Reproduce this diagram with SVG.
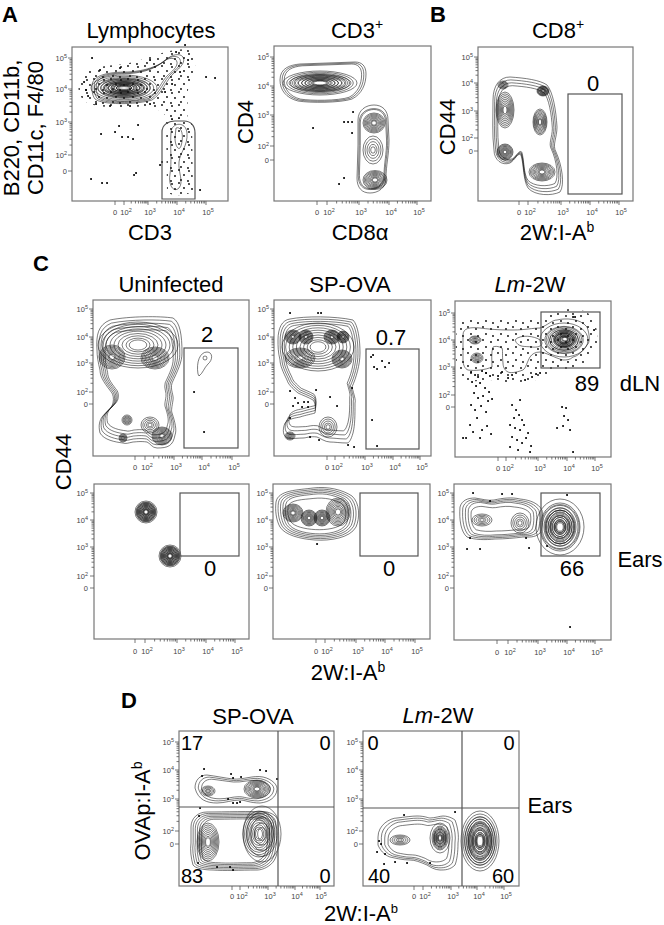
<svg xmlns="http://www.w3.org/2000/svg" width="664" height="925" viewBox="0 0 664 925">
<style>
text{font-family:"Liberation Sans",Arial,sans-serif;fill:#000}
.t{font-size:22px;text-anchor:middle}
.pl{font-size:22px;font-weight:bold}
.n{font-size:22px;text-anchor:middle}
.n2{font-size:20px;text-anchor:middle}
.tx{font-size:7.5px;fill:#444;text-anchor:middle}
.ty{font-size:7.5px;fill:#444;text-anchor:end}
.s{font-size:5.5px}
.fr{fill:none;stroke:#777;stroke-width:1.2}
.gt{fill:none;stroke:#555;stroke-width:1.2}
.tk{fill:none;stroke:#555;stroke-width:0.8}
.ct{fill:none;stroke:#111;stroke-width:0.55}
.dt{fill:none;stroke:#000;stroke-width:2;stroke-linecap:round}
</style>
<defs>
<g id="rg"><circle r="10" fill="none" vector-effect="non-scaling-stroke"/><circle r="9" fill="none" vector-effect="non-scaling-stroke"/><circle r="8" fill="none" vector-effect="non-scaling-stroke"/><circle r="7" fill="none" vector-effect="non-scaling-stroke"/><circle r="6" fill="none" vector-effect="non-scaling-stroke"/><circle r="5" fill="none" vector-effect="non-scaling-stroke"/><circle r="4" fill="none" vector-effect="non-scaling-stroke"/><circle r="3" fill="none" vector-effect="non-scaling-stroke"/><circle r="2.2" fill="none" vector-effect="non-scaling-stroke"/></g>
<g id="rg2"><circle r="10" fill="none" vector-effect="non-scaling-stroke"/><circle r="8" fill="none" vector-effect="non-scaling-stroke"/><circle r="6" fill="none" vector-effect="non-scaling-stroke"/><circle r="4" fill="none" vector-effect="non-scaling-stroke"/><circle r="2.3" fill="none" vector-effect="non-scaling-stroke"/></g>
<g id="dx"><path d="M30.1,0v2.5M47.7,0v2.5M60.2,0v2.5M69.9,0v2.5M77.8,0v2.5M84.5,0v2.5M90.3,0v2.5M95.4,0v2.5" fill="none" vector-effect="non-scaling-stroke"/></g>
<g id="dy"><path d="M0,-30.1h-2.5M0,-47.7h-2.5M0,-60.2h-2.5M0,-69.9h-2.5M0,-77.8h-2.5M0,-84.5h-2.5M0,-90.3h-2.5M0,-95.4h-2.5" fill="none" vector-effect="non-scaling-stroke"/></g>
<pattern id="dots" width="17" height="13" patternUnits="userSpaceOnUse"><circle cx="2" cy="2" r="0.9"/><circle cx="9" cy="1" r="0.9"/><circle cx="14" cy="6" r="0.9"/><circle cx="5" cy="7" r="0.9"/><circle cx="11" cy="11" r="0.9"/><circle cx="1" cy="12" r="0.9"/></pattern>
<pattern id="dots2" width="15" height="13" patternUnits="userSpaceOnUse"><circle cx="3" cy="2" r="0.9"/><circle cx="11" cy="4" r="0.9"/><circle cx="6" cy="9" r="0.9"/><circle cx="13" cy="11" r="0.9"/></pattern>
</defs>
<rect width="664" height="925" fill="#fff"/>

<g id="labels">
<text class="pl" x="2" y="22">A</text>
<text class="pl" x="430" y="22">B</text>
<text class="pl" x="33" y="271">C</text>
<text class="pl" x="121" y="708">D</text>
<text class="t" x="151" y="38">Lymphocytes</text>
<text class="t" x="357" y="38">CD3<tspan font-size="14" dy="-9">+</tspan></text>
<text class="t" x="558" y="38">CD8<tspan font-size="14" dy="-9">+</tspan></text>
<text class="t" x="150" y="240">CD3</text>
<text class="t" x="360" y="240">CD8α</text>
<text class="t" x="557" y="240">2W:I-A<tspan font-size="14" dy="-8">b</tspan></text>
<text class="t" transform="translate(19,128) rotate(-90)">B220, CD11b,</text>
<text class="t" transform="translate(43,128) rotate(-90)">CD11c, F4/80</text>
<text class="t" transform="translate(253,122) rotate(-90)">CD4</text>
<text class="t" transform="translate(455,127) rotate(-90)">CD44</text>
<text class="t" x="171" y="292">Uninfected</text>
<text class="t" x="350" y="292">SP-OVA</text>
<text class="t" x="530" y="292"><tspan font-style="italic">Lm</tspan>-2W</text>
<text class="t" font-size="25" transform="translate(71,462) rotate(-90)">CD44</text>
<text class="t" x="348" y="680">2W:I-A<tspan font-size="14" dy="-8">b</tspan></text>
<text class="t" x="640" y="391">dLN</text>
<text class="t" x="640" y="567">Ears</text>
<text class="t" x="253" y="724">SP-OVA</text>
<text class="t" x="438" y="723"><tspan font-style="italic">Lm</tspan>-2W</text>
<text class="t" transform="translate(150,811) rotate(-90)">OVAp:I-A<tspan font-size="14" dy="-8">b</tspan></text>
<text class="t" font-size="21" x="361" y="921">2W:I-A<tspan font-size="13" dy="-8">b</tspan></text>
<text class="t" x="550" y="813">Ears</text>
</g>

<g id="plotA1">
<rect class="fr" x="72" y="47" width="156" height="154"/>
<g class="tk"><path d="M115,201v4M124,201v4M148,201v4M177,201v4M206,201v4M72,58h-4M72,89h-4M72,122h-4M72,155h-4M72,171h-4"/>
<use href="#dx" transform="translate(124,201) scale(.24,1)"/><use href="#dx" transform="translate(148,201) scale(.29,1)"/><use href="#dx" transform="translate(177,201) scale(.29,1)"/>
<use href="#dy" transform="translate(72,155) scale(1,.33)"/><use href="#dy" transform="translate(72,122) scale(1,.33)"/><use href="#dy" transform="translate(72,89) scale(1,.31)"/></g>
<text class="tx" x="115" y="215">0</text><text class="tx" x="126" y="215">10<tspan class="s" dy="-3">2</tspan></text><text class="tx" x="150" y="215">10<tspan class="s" dy="-3">3</tspan></text><text class="tx" x="179" y="215">10<tspan class="s" dy="-3">4</tspan></text><text class="tx" x="208" y="215">10<tspan class="s" dy="-3">5</tspan></text>
<text class="ty" x="67" y="61">10<tspan class="s" dy="-3">5</tspan></text><text class="ty" x="67" y="92">10<tspan class="s" dy="-3">4</tspan></text><text class="ty" x="67" y="125">10<tspan class="s" dy="-3">3</tspan></text><text class="ty" x="67" y="158">10<tspan class="s" dy="-3">2</tspan></text><text class="ty" x="67" y="174">0</text>
<path d="M80,80 C82,68 100,66 125,64 C145,60 160,52 175,50 C190,47 198,52 196,62 C194,72 190,80 188,90 C186,100 190,112 186,122 L168,122 C166,112 158,108 145,107 C125,106 100,110 86,102 C78,96 77,88 80,80 Z" fill="url(#dots)"/>
<path d="M166,122 C170,118 185,116 192,122 L193,190 C190,196 172,197 167,192 Z" fill="url(#dots)"/>
<path id="a1o" class="ct" vector-effect="non-scaling-stroke" fill="#fff" d="M92,86 C92,75 108,72 128,72 C146,71 158,66 166,60 C172,54 180,53 183,57 C186,62 180,68 174,73 C166,80 162,94 152,100 C135,105 102,105 95,99 C92,95 92,90 92,86 Z"/>
<use href="#a1o" class="ct" transform="translate(128,86) scale(.94) translate(-128,-86)"/>
<use href="#a1o" class="ct" transform="translate(128,86) scale(.88) translate(-128,-86)"/>
<use href="#rg" class="ct" transform="translate(124,88) scale(3.3,1.3)"/>
<use href="#rg" class="ct" transform="translate(124,88) scale(2.6,0.95)"/>
<use href="#rg2" class="ct" transform="translate(124,88) scale(2.0,0.6)"/>
<path class="ct" d="M171,132 C172,122 186,121 187,133 C188,146 180,152 179,162 C178,172 184,182 179,188 C174,193 168,186 170,174 C172,162 170,148 171,132 Z M176,128 C182,126 184,136 181,146 C179,152 175,146 175,138 Z"/>
<path class="dt" d="M92,58h.1M101,134h.1M115,132h.1M119,126h.1M122,137h.1M128,137h.1M133,139h.1M138,125h.1M91,179h.1M102,183h.1M107,183h.1M134,175h.1M136,173h.1M200,190h.1M215,78h.1M206,77h.1M162,162h.1M160,165h.1M185,45h.1M84,82h.1M86,90h.1M88,96h.1M96,104h.1M110,106h.1M130,106h.1M150,104h.1M165,92h.1M172,84h.1M180,72h.1M188,60h.1M176,52h.1M150,60h.1M120,68h.1M100,70h.1"/>
<path class="gt" d="M162,199 L162,132 C162,125 168,121 175,121 L184,121 C191,121 195,126 195,133 L195,199 Z"/>
</g>

<g id="plotA2">
<rect class="fr" x="274" y="46" width="157" height="155"/>
<g class="tk"><path d="M317,201v4M327,201v4M359,201v4M389,201v4M417,201v4M274,57h-4M274,86h-4M274,115h-4M274,146h-4M274,160h-4"/>
<use href="#dx" transform="translate(327,201) scale(.32,1)"/><use href="#dx" transform="translate(359,201) scale(.30,1)"/><use href="#dx" transform="translate(389,201) scale(.28,1)"/>
<use href="#dy" transform="translate(274,146) scale(1,.31)"/><use href="#dy" transform="translate(274,115) scale(1,.29)"/><use href="#dy" transform="translate(274,86) scale(1,.29)"/></g>
<text class="tx" x="317" y="215">0</text><text class="tx" x="329" y="215">10<tspan class="s" dy="-3">2</tspan></text><text class="tx" x="361" y="215">10<tspan class="s" dy="-3">3</tspan></text><text class="tx" x="391" y="215">10<tspan class="s" dy="-3">4</tspan></text><text class="tx" x="419" y="215">10<tspan class="s" dy="-3">5</tspan></text>
<text class="ty" x="269" y="60">10<tspan class="s" dy="-3">5</tspan></text><text class="ty" x="269" y="89">10<tspan class="s" dy="-3">4</tspan></text><text class="ty" x="269" y="118">10<tspan class="s" dy="-3">3</tspan></text><text class="ty" x="269" y="149">10<tspan class="s" dy="-3">2</tspan></text><text class="ty" x="269" y="163">0</text>
<path id="a2o" class="ct" vector-effect="non-scaling-stroke" d="M280,80 C280,68 290,65 300,64 L355,62 C362,62 366,66 366,74 C366,84 362,94 352,99 C340,103 310,103 298,101 C286,98 280,90 280,80 Z"/>
<use href="#a2o" class="ct" transform="translate(322,82) scale(.95) translate(-322,-82)"/>
<use href="#a2o" class="ct" transform="translate(322,82) scale(.9) translate(-322,-82)"/>
<use href="#rg" class="ct" transform="translate(320,83) scale(3.7,1.2)"/>
<use href="#rg" class="ct" transform="translate(320,83) scale(3.1,0.85)"/>
<path id="a2p" class="ct" vector-effect="non-scaling-stroke" d="M358,120 C358,110 366,105 374,105 C382,105 388,110 388,120 L389,140 C389,155 386,165 386,178 C386,188 378,193 370,193 C362,193 357,188 357,178 L358,145 Z"/>
<use href="#a2p" class="ct" transform="translate(373,150) scale(.92) translate(-373,-150)"/>
<use href="#a2p" class="ct" transform="translate(373,150) scale(.85,.9) translate(-373,-150)"/>
<use href="#rg" class="ct" transform="translate(374,123) scale(1.1,1.0)"/>
<use href="#rg2" class="ct" transform="translate(373,150) scale(1.0,1.4)"/>
<use href="#rg" class="ct" transform="translate(375,180) scale(1.2,0.95)"/>
<path class="dt" d="M313,128h.1M344,122h.1M348,122h.1M352,122h.1M353,112h.1M352,133h.1M344,178h.1M339,184h.1"/>
</g>

<g id="plotB">
<rect class="fr" x="478" y="47" width="155" height="154"/>
<g class="tk"><path d="M519,201v4M528,201v4M561,201v4M590,201v4M619,201v4M478,57h-4M478,83h-4M478,111h-4M478,138h-4M478,151h-4"/>
<use href="#dx" transform="translate(528,201) scale(.33,1)"/><use href="#dx" transform="translate(561,201) scale(.29,1)"/><use href="#dx" transform="translate(590,201) scale(.29,1)"/>
<use href="#dy" transform="translate(478,138) scale(1,.27)"/><use href="#dy" transform="translate(478,111) scale(1,.28)"/><use href="#dy" transform="translate(478,83) scale(1,.26)"/></g>
<text class="tx" x="519" y="215">0</text><text class="tx" x="530" y="215">10<tspan class="s" dy="-3">2</tspan></text><text class="tx" x="563" y="215">10<tspan class="s" dy="-3">3</tspan></text><text class="tx" x="592" y="215">10<tspan class="s" dy="-3">4</tspan></text><text class="tx" x="621" y="215">10<tspan class="s" dy="-3">5</tspan></text>
<text class="ty" x="473" y="60">10<tspan class="s" dy="-3">5</tspan></text><text class="ty" x="473" y="86">10<tspan class="s" dy="-3">4</tspan></text><text class="ty" x="473" y="114">10<tspan class="s" dy="-3">3</tspan></text><text class="ty" x="473" y="141">10<tspan class="s" dy="-3">2</tspan></text><text class="ty" x="473" y="154">0</text>
<path id="b1o" class="ct" vector-effect="non-scaling-stroke" d="M493,100 C493,85 500,77 510,77 C525,78 540,80 547,85 C553,92 556,110 557,127 C557,138 552,145 556,152 C562,165 565,185 560,192 C552,196 535,196 528,188 C523,180 524,165 521,155 C518,152 515,160 510,163 C502,166 494,160 494,150 C492,135 493,115 493,100 Z"/>
<use href="#b1o" class="ct" transform="translate(526,135) scale(.95) translate(-526,-135)"/>
<use href="#b1o" class="ct" transform="translate(526,135) scale(.9) translate(-526,-135)"/>
<use href="#b1o" class="ct" transform="translate(526,135) scale(.85) translate(-526,-135)"/>
<use href="#rg" class="ct" transform="translate(505,110) scale(0.9,1.8)"/>
<use href="#rg" class="ct" transform="translate(505,152) scale(0.8,0.8)"/>
<use href="#rg" class="ct" transform="translate(540,122) scale(0.7,1.3)"/>
<use href="#rg" class="ct" transform="translate(543,91) scale(0.6,0.5)"/>
<use href="#rg" class="ct" transform="translate(542,172) scale(1.3,0.9)"/>
<use href="#rg2" class="ct" transform="translate(503,85) scale(0.5,0.4)"/>
<rect class="gt" x="568" y="94" width="54" height="100"/>
<text class="n" x="593" y="91">0</text>
</g>

<g id="plotC1">
<rect class="fr" x="93" y="300" width="156" height="156"/>
<g class="tk"><path d="M135,456v4M145,456v4M174,456v4M202,456v4M232,456v4M93,309h-4M93,337h-4M93,363h-4M93,392h-4M93,404h-4"/>
<use href="#dx" transform="translate(145,456) scale(.29,1)"/><use href="#dx" transform="translate(174,456) scale(.28,1)"/><use href="#dx" transform="translate(202,456) scale(.30,1)"/>
<use href="#dy" transform="translate(93,392) scale(1,.29)"/><use href="#dy" transform="translate(93,363) scale(1,.26)"/><use href="#dy" transform="translate(93,337) scale(1,.28)"/></g>
<text class="tx" x="135" y="470">0</text><text class="tx" x="147" y="470">10<tspan class="s" dy="-3">2</tspan></text><text class="tx" x="176" y="470">10<tspan class="s" dy="-3">3</tspan></text><text class="tx" x="204" y="470">10<tspan class="s" dy="-3">4</tspan></text><text class="tx" x="234" y="470">10<tspan class="s" dy="-3">5</tspan></text>
<text class="ty" x="88" y="312">10<tspan class="s" dy="-3">5</tspan></text><text class="ty" x="88" y="340">10<tspan class="s" dy="-3">4</tspan></text><text class="ty" x="88" y="366">10<tspan class="s" dy="-3">3</tspan></text><text class="ty" x="88" y="395">10<tspan class="s" dy="-3">2</tspan></text><text class="ty" x="88" y="407">0</text>
<path id="c1o" class="ct" vector-effect="non-scaling-stroke" d="M97,350 C96,335 98,325 110,320 C130,316 160,316 173,318 C180,322 182,335 182,353 C182,362 178,370 172,383 C170,390 174,395 173,400 C172,407 171,410 172,413 C175,422 177,430 175,435 C173,446 168,448 157,448 C152,448 150,443 147,442 C140,441 135,442 133,442 C128,443 126,444 123,443 C115,442 104,440 100,433 C98,425 100,420 102,417 C106,412 112,408 113,403 C114,398 113,395 112,393 C106,385 100,378 100,370 C98,362 97,356 97,350 Z"/>
<use href="#c1o" class="ct" transform="translate(138,382) scale(.95) translate(-138,-382)"/>
<use href="#c1o" class="ct" transform="translate(138,382) scale(.9) translate(-138,-382)"/>
<use href="#c1o" class="ct" transform="translate(138,382) scale(.85) translate(-138,-382)"/>
<use href="#c1o" class="ct" transform="translate(138,382) scale(.8) translate(-138,-382)"/>
<use href="#rg" class="ct" transform="translate(138,345) scale(4.0,2.3)"/>
<use href="#rg" class="ct" transform="translate(112,357) scale(1.3,1.2)"/>
<use href="#rg" class="ct" transform="translate(155,358) scale(1.4,1.1)"/>
<use href="#rg2" class="ct" transform="translate(127,420) scale(0.5)"/>
<use href="#rg2" class="ct" transform="translate(123,438) scale(0.4)"/>
<use href="#rg" class="ct" transform="translate(162,436) scale(1.0,0.9)"/>
<use href="#rg2" class="ct" transform="translate(150,425) scale(0.9,0.8)"/>
<rect class="gt" x="184" y="348" width="54" height="100"/>
<path class="ct" d="M198,374 C196,362 200,352 207,352 C213,352 213,360 208,364 C204,368 203,373 199,376 Z"/>
<circle class="ct" cx="205" cy="358" r="2"/>
<path class="dt" d="M194,392h.1M204,432h.1"/>
<text class="n" x="207" y="342">2</text>
</g>

<g id="plotC2">
<rect class="fr" x="274" y="300" width="157" height="156"/>
<g class="tk"><path d="M327,456v4M335,456v4M365,456v4M393,456v4M420,456v4M274,309h-4M274,337h-4M274,363h-4M274,392h-4M274,404h-4"/>
<use href="#dx" transform="translate(335,456) scale(.30,1)"/><use href="#dx" transform="translate(365,456) scale(.28,1)"/><use href="#dx" transform="translate(393,456) scale(.27,1)"/>
<use href="#dy" transform="translate(274,392) scale(1,.29)"/><use href="#dy" transform="translate(274,363) scale(1,.26)"/><use href="#dy" transform="translate(274,337) scale(1,.28)"/></g>
<text class="tx" x="327" y="470">0</text><text class="tx" x="337" y="470">10<tspan class="s" dy="-3">2</tspan></text><text class="tx" x="367" y="470">10<tspan class="s" dy="-3">3</tspan></text><text class="tx" x="395" y="470">10<tspan class="s" dy="-3">4</tspan></text><text class="tx" x="422" y="470">10<tspan class="s" dy="-3">5</tspan></text>
<text class="ty" x="269" y="312">10<tspan class="s" dy="-3">5</tspan></text><text class="ty" x="269" y="340">10<tspan class="s" dy="-3">4</tspan></text><text class="ty" x="269" y="366">10<tspan class="s" dy="-3">3</tspan></text><text class="ty" x="269" y="395">10<tspan class="s" dy="-3">2</tspan></text><text class="ty" x="269" y="407">0</text>
<path id="c2o" class="ct" vector-effect="non-scaling-stroke" d="M278,340 C278,328 282,320 290,319 C305,316 335,316 353,320 C358,325 360,340 360,353 C360,365 356,378 352,387 C354,395 356,400 355,403 C355,415 355,425 353,433 C351,440 349,443 347,443 C340,443 335,442 330,442 C325,442 320,438 317,437 C310,436 306,438 303,438 C298,438 292,439 288,438 C283,437 282,430 285,423 C290,418 296,418 300,417 C306,415 312,414 315,413 C316,408 315,402 313,400 C308,397 302,395 298,393 C292,388 288,384 287,380 C283,372 280,365 280,360 C278,352 278,346 278,340 Z"/>
<use href="#c2o" class="ct" transform="translate(320,362) scale(.95) translate(-320,-362)"/>
<use href="#c2o" class="ct" transform="translate(320,362) scale(.9) translate(-320,-362)"/>
<use href="#c2o" class="ct" transform="translate(320,362) scale(.85) translate(-320,-362)"/>
<use href="#rg" class="ct" transform="translate(318,347) scale(3.6,2.4)"/>
<use href="#rg" class="ct" transform="translate(293,337) scale(0.8,0.7)"/>
<use href="#rg" class="ct" transform="translate(306,337) scale(0.7)"/>
<use href="#rg" class="ct" transform="translate(332,337) scale(0.8,0.7)"/>
<use href="#rg" class="ct" transform="translate(343,337) scale(0.6)"/>
<use href="#rg" class="ct" transform="translate(300,358) scale(1.5,1.0)"/>
<use href="#rg" class="ct" transform="translate(342,359) scale(1.0,0.9)"/>
<use href="#rg2" class="ct" transform="translate(328,427) scale(0.9,1.0)"/>
<use href="#rg2" class="ct" transform="translate(290,436) scale(0.5,0.4)"/>
<path class="dt" d="M290,313h.1M318,313h.1M321,313h.1M290,391h.1M295,398h.1M293,406h.1M298,403h.1M304,402h.1M308,402h.1M302,407h.1M308,407h.1M290,418h.1M310,437h.1M319,440h.1M330,397h.1M337,406h.1M352,388h.1M348,445h.1M354,447h.1M316,390h.1M373,355h.1M371,357h.1M374,367h.1M377,369h.1M382,361h.1M385,367h.1M389,363h.1M372,420h.1M377,446h.1"/>
<rect class="gt" x="366" y="349" width="53" height="100"/>
<text class="n" x="391" y="345">0.7</text>
</g>

<g id="plotC3">
<rect class="fr" x="455" y="301" width="156" height="156"/>
<g class="tk"><path d="M498,457v4M506,457v4M538,457v4M567,457v4M595,457v4M455,313h-4M455,340h-4M455,367h-4M455,395h-4M455,407h-4"/>
<use href="#dx" transform="translate(506,457) scale(.32,1)"/><use href="#dx" transform="translate(538,457) scale(.29,1)"/><use href="#dx" transform="translate(567,457) scale(.28,1)"/>
<use href="#dy" transform="translate(455,395) scale(1,.28)"/><use href="#dy" transform="translate(455,367) scale(1,.27)"/><use href="#dy" transform="translate(455,340) scale(1,.27)"/></g>
<text class="tx" x="498" y="471">0</text><text class="tx" x="508" y="471">10<tspan class="s" dy="-3">2</tspan></text><text class="tx" x="540" y="471">10<tspan class="s" dy="-3">3</tspan></text><text class="tx" x="569" y="471">10<tspan class="s" dy="-3">4</tspan></text><text class="tx" x="597" y="471">10<tspan class="s" dy="-3">5</tspan></text>
<text class="ty" x="450" y="316">10<tspan class="s" dy="-3">5</tspan></text><text class="ty" x="450" y="343">10<tspan class="s" dy="-3">4</tspan></text><text class="ty" x="450" y="370">10<tspan class="s" dy="-3">3</tspan></text><text class="ty" x="450" y="398">10<tspan class="s" dy="-3">2</tspan></text><text class="ty" x="450" y="410">0</text>
<path d="M458,322 C470,316 500,318 530,320 C545,316 560,306 580,310 C595,312 600,330 596,350 C590,362 575,372 555,370 C545,378 535,382 520,382 C505,384 495,380 488,380 C478,382 463,382 458,376 C455,360 455,338 458,322 Z" fill="url(#dots2)"/>
<path id="c3o" class="ct" vector-effect="non-scaling-stroke" fill="#fff" d="M463,335 C463,328 470,327 480,328 C495,330 505,330 513,330 C525,330 533,328 540,328 C548,325 552,320 557,320 C565,318 580,318 587,327 C590,335 590,343 587,345 C582,352 578,356 573,357 C570,360 566,360 563,360 C555,358 545,352 540,352 C535,352 532,354 530,357 C527,362 526,368 523,370 C515,373 510,373 508,372 C504,370 503,366 503,363 C502,355 503,350 502,348 C498,346 495,346 493,347 C491,352 492,362 492,367 C485,370 475,371 468,370 C465,369 463,365 463,360 Z"/>
<use href="#rg2" class="ct" transform="translate(475,340) scale(0.6,0.4)"/>
<use href="#rg2" class="ct" transform="translate(477,358) scale(0.6,0.5)"/>
<path class="ct" d="M515,340 C520,334 535,336 540,340 C545,344 540,348 532,347 C525,346 518,348 515,340 Z"/>
<use href="#rg2" class="ct" transform="translate(564,340) scale(2.4,1.7)"/>
<use href="#rg" class="ct" transform="translate(564,340) scale(1.8,1.3)"/>
<use href="#rg" class="ct" transform="translate(565,339) scale(1.1,0.85)"/>
<path class="dt" d="M471,372h.1M475,375h.1M478,377h.1M482,371h.1M486,373h.1M490,376h.1M472,382h.1M476,386h.1M480,383h.1M485,388h.1M489,392h.1M474,393h.1M478,398h.1M483,396h.1M488,401h.1M492,399h.1M471,405h.1M475,410h.1M481,406h.1M486,412h.1M477,418h.1M470,425h.1M473,432h.1M482,430h.1M487,426h.1M491,434h.1M466,438h.1M480,438h.1M498,376h.1M502,372h.1M508,378h.1M512,375h.1M512,405h.1M516,410h.1M514,418h.1M519,415h.1M522,420h.1M510,425h.1M515,428h.1M520,430h.1M524,425h.1M528,433h.1M512,437h.1M517,440h.1M522,443h.1M526,438h.1M531,446h.1M510,447h.1M518,450h.1M530,452h.1M520,400h.1M525,380h.1M532,377h.1M536,374h.1M540,373h.1M562,407h.1M566,408h.1M564,416h.1M568,420h.1M563,426h.1M570,430h.1M573,452h.1M557,428h.1M463,438h.1M573,317h.1M575,317h.1M594,330h.1"/>
<rect class="gt" x="541" y="312" width="59" height="56"/>
<text class="n" x="587" y="391">89</text>
</g>

<g id="plotC4">
<rect class="fr" x="94" y="484" width="155" height="155"/>
<g class="tk"><path d="M135,639v4M145,639v4M177,639v4M206,639v4M235,639v4M94,493h-4M94,520h-4M94,547h-4M94,576h-4M94,588h-4"/>
<use href="#dx" transform="translate(145,639) scale(.32,1)"/><use href="#dx" transform="translate(177,639) scale(.29,1)"/><use href="#dx" transform="translate(206,639) scale(.29,1)"/>
<use href="#dy" transform="translate(94,576) scale(1,.29)"/><use href="#dy" transform="translate(94,547) scale(1,.27)"/><use href="#dy" transform="translate(94,520) scale(1,.27)"/></g>
<text class="tx" x="135" y="654">0</text><text class="tx" x="147" y="654">10<tspan class="s" dy="-3">2</tspan></text><text class="tx" x="179" y="654">10<tspan class="s" dy="-3">3</tspan></text><text class="tx" x="208" y="654">10<tspan class="s" dy="-3">4</tspan></text><text class="tx" x="237" y="654">10<tspan class="s" dy="-3">5</tspan></text>
<text class="ty" x="88" y="496">10<tspan class="s" dy="-3">5</tspan></text><text class="ty" x="88" y="523">10<tspan class="s" dy="-3">4</tspan></text><text class="ty" x="88" y="550">10<tspan class="s" dy="-3">3</tspan></text><text class="ty" x="88" y="579">10<tspan class="s" dy="-3">2</tspan></text><text class="ty" x="88" y="591">0</text>
<use href="#rg" class="ct" transform="translate(146,512) scale(1.1)"/>
<use href="#rg" class="ct" transform="translate(146,512) scale(0.95)"/>
<use href="#rg" class="ct" transform="translate(170,556) scale(1.1)"/>
<use href="#rg" class="ct" transform="translate(170,556) scale(0.95)"/>
<rect class="gt" x="180" y="493" width="59" height="63"/>
<text class="n" x="210" y="576">0</text>
</g>

<g id="plotC5">
<rect class="fr" x="273" y="484" width="157" height="155"/>
<g class="tk"><path d="M316,639v4M325,639v4M356,639v4M385,639v4M415,639v4M273,493h-4M273,520h-4M273,547h-4M273,576h-4M273,588h-4"/>
<use href="#dx" transform="translate(325,639) scale(.31,1)"/><use href="#dx" transform="translate(356,639) scale(.29,1)"/><use href="#dx" transform="translate(385,639) scale(.30,1)"/>
<use href="#dy" transform="translate(273,576) scale(1,.29)"/><use href="#dy" transform="translate(273,547) scale(1,.27)"/><use href="#dy" transform="translate(273,520) scale(1,.27)"/></g>
<text class="tx" x="316" y="654">0</text><text class="tx" x="327" y="654">10<tspan class="s" dy="-3">2</tspan></text><text class="tx" x="358" y="654">10<tspan class="s" dy="-3">3</tspan></text><text class="tx" x="387" y="654">10<tspan class="s" dy="-3">4</tspan></text><text class="tx" x="417" y="654">10<tspan class="s" dy="-3">5</tspan></text>
<text class="ty" x="268" y="496">10<tspan class="s" dy="-3">5</tspan></text><text class="ty" x="268" y="523">10<tspan class="s" dy="-3">4</tspan></text><text class="ty" x="268" y="550">10<tspan class="s" dy="-3">3</tspan></text><text class="ty" x="268" y="579">10<tspan class="s" dy="-3">2</tspan></text><text class="ty" x="268" y="591">0</text>
<path id="c5o" class="ct" vector-effect="non-scaling-stroke" d="M276,502 C278,490 298,490 313,488 C328,486 343,490 352,496 C360,503 360,518 356,527 C350,538 330,541 315,540 C300,539 285,535 280,527 C276,520 275,510 276,502 Z"/>
<use href="#c5o" class="ct" transform="translate(316,514) scale(.94) translate(-316,-514)"/>
<use href="#c5o" class="ct" transform="translate(316,514) scale(.88) translate(-316,-514)"/>
<use href="#c5o" class="ct" transform="translate(316,514) scale(.82) translate(-316,-514)"/>
<use href="#c5o" class="ct" transform="translate(316,514) scale(.76) translate(-316,-514)"/>
<use href="#c5o" class="ct" transform="translate(316,514) scale(.7,.6) translate(-316,-514)"/>
<use href="#rg" class="ct" transform="translate(293,513) scale(1.0,0.9)"/>
<use href="#rg" class="ct" transform="translate(309,518) scale(0.8)"/>
<use href="#rg" class="ct" transform="translate(322,518) scale(0.8)"/>
<use href="#rg" class="ct" transform="translate(338,512) scale(1.2,1.4)"/>
<path class="dt" d="M317,544h.1"/>
<rect class="gt" x="360" y="493" width="58" height="63"/>
<text class="n" x="389" y="576">0</text>
</g>

<g id="plotC6">
<rect class="fr" x="454" y="484" width="157" height="156"/>
<g class="tk"><path d="M497,640v4M508,640v4M538,640v4M567,640v4M595,640v4M454,493h-4M454,520h-4M454,547h-4M454,576h-4M454,588h-4"/>
<use href="#dx" transform="translate(508,640) scale(.30,1)"/><use href="#dx" transform="translate(538,640) scale(.29,1)"/><use href="#dx" transform="translate(567,640) scale(.28,1)"/>
<use href="#dy" transform="translate(454,576) scale(1,.29)"/><use href="#dy" transform="translate(454,547) scale(1,.27)"/><use href="#dy" transform="translate(454,520) scale(1,.27)"/></g>
<text class="tx" x="497" y="655">0</text><text class="tx" x="510" y="655">10<tspan class="s" dy="-3">2</tspan></text><text class="tx" x="540" y="655">10<tspan class="s" dy="-3">3</tspan></text><text class="tx" x="569" y="655">10<tspan class="s" dy="-3">4</tspan></text><text class="tx" x="597" y="655">10<tspan class="s" dy="-3">5</tspan></text>
<text class="ty" x="449" y="496">10<tspan class="s" dy="-3">5</tspan></text><text class="ty" x="449" y="523">10<tspan class="s" dy="-3">4</tspan></text><text class="ty" x="449" y="550">10<tspan class="s" dy="-3">3</tspan></text><text class="ty" x="449" y="579">10<tspan class="s" dy="-3">2</tspan></text><text class="ty" x="449" y="591">0</text>
<path id="c6o" class="ct" vector-effect="non-scaling-stroke" d="M460,507 C462,500 468,498 475,498 C482,499 488,501 494,500 C503,498 512,497 520,499 C530,500 538,503 542,510 C544,520 542,530 540,533 C535,538 528,537 523,537 C515,538 505,539 495,539 C485,540 475,540 467,537 C461,532 459,520 460,507 Z"/>
<use href="#c6o" class="ct" transform="translate(500,519) scale(.93) translate(-500,-519)"/>
<use href="#c6o" class="ct" transform="translate(500,519) scale(.86) translate(-500,-519)"/>
<use href="#c6o" class="ct" transform="translate(500,519) scale(.79) translate(-500,-519)"/>
<use href="#c6o" class="ct" transform="translate(500,519) scale(.72,.6) translate(-500,-519)"/>
<use href="#rg2" class="ct" transform="translate(482,520) scale(1.0,0.6)"/>
<use href="#rg2" class="ct" transform="translate(520,523) scale(0.9,1.0)"/>
<use href="#rg2" class="ct" transform="translate(560,527) scale(2.4,2.8)"/>
<use href="#rg" class="ct" transform="translate(560,527) scale(2.0,2.4)"/>
<use href="#rg" class="ct" transform="translate(560,527) scale(1.5,1.9)"/>
<path class="dt" d="M473,493h.1M490,501h.1M502,494h.1M512,494h.1M567,495h.1M467,549h.1M480,549h.1M529,548h.1M526,538h.1M470,538h.1M547,546h.1M570,627h.1"/>
<rect class="gt" x="541" y="493" width="59" height="63"/>
<text class="n" x="572" y="576">66</text>
</g>

<g id="plotD1">
<rect class="fr" x="179" y="731" width="155" height="155"/>
<g class="tk"><path d="M232,886v4M240,886v4M268,886v4M295,886v4M320,886v4M179,742h-4M179,770h-4M179,799h-4M179,831h-4M179,844h-4"/>
<use href="#dx" transform="translate(240,886) scale(.28,1)"/><use href="#dx" transform="translate(268,886) scale(.27,1)"/><use href="#dx" transform="translate(295,886) scale(.25,1)"/>
<use href="#dy" transform="translate(179,831) scale(1,.32)"/><use href="#dy" transform="translate(179,799) scale(1,.29)"/><use href="#dy" transform="translate(179,770) scale(1,.28)"/></g>
<text class="tx" x="232" y="899">0</text><text class="tx" x="242" y="899">10<tspan class="s" dy="-3">2</tspan></text><text class="tx" x="270" y="899">10<tspan class="s" dy="-3">3</tspan></text><text class="tx" x="297" y="899">10<tspan class="s" dy="-3">4</tspan></text><text class="tx" x="321" y="899">10<tspan class="s" dy="-3">5</tspan></text>
<text class="ty" x="174" y="745">10<tspan class="s" dy="-3">5</tspan></text><text class="ty" x="174" y="773">10<tspan class="s" dy="-3">4</tspan></text><text class="ty" x="174" y="802">10<tspan class="s" dy="-3">3</tspan></text><text class="ty" x="174" y="834">10<tspan class="s" dy="-3">2</tspan></text><text class="ty" x="174" y="847">0</text>
<path id="d1u" class="ct" vector-effect="non-scaling-stroke" d="M195,788 C195,780 200,775 207,775 C215,776 225,778 233,779 C243,780 253,775 263,777 C272,779 278,785 277,790 C276,797 270,802 260,803 C250,803 245,800 240,800 C232,800 225,803 217,803 C207,803 198,800 195,788 Z"/>
<use href="#d1u" class="ct" transform="translate(236,789) scale(.92,.85) translate(-236,-789)"/>
<use href="#d1u" class="ct" transform="translate(236,789) scale(.84,.7) translate(-236,-789)"/>
<use href="#rg2" class="ct" transform="translate(208,791) scale(0.7,0.5)"/>
<use href="#rg" class="ct" transform="translate(257,789) scale(1.3,0.9)"/>
<path id="d1l" class="ct" vector-effect="non-scaling-stroke" d="M191,827 C191,818 198,812 207,812 C225,812 250,811 267,812 C275,814 278,818 278,823 C279,835 279,845 278,847 C277,857 274,862 270,865 C265,869 260,870 257,870 C240,870 225,871 213,870 C203,870 195,868 193,865 C191,858 190,850 191,843 Z"/>
<use href="#d1l" class="ct" transform="translate(234,841) scale(.95) translate(-234,-841)"/>
<use href="#d1l" class="ct" transform="translate(234,841) scale(.9) translate(-234,-841)"/>
<use href="#d1l" class="ct" transform="translate(234,841) scale(.85) translate(-234,-841)"/>
<use href="#d1l" class="ct" transform="translate(234,841) scale(.8) translate(-234,-841)"/>
<use href="#d1l" class="ct" transform="translate(234,841) scale(.75) translate(-234,-841)"/>
<use href="#rg" class="ct" transform="translate(208,842) scale(1.1,1.9)"/>
<use href="#rg" class="ct" transform="translate(259,834) scale(1.6,2.3)"/>
<use href="#rg2" class="ct" transform="translate(262,834) scale(1.9,2.8)"/>
<path class="dt" d="M204,769h.1M202,776h.1M231,774h.1M233,778h.1M241,777h.1M260,770h.1M266,771h.1M277,779h.1M228,799h.1M233,803h.1M237,803h.1M240,802h.1M200,808h.1M199,816h.1M217,867h.1M233,870h.1M230,867h.1M198,863h.1"/>
<path class="gt" d="M278,731V886M179,807H334"/>
<text class="n2" x="192" y="750">17</text>
<text class="n2" x="325" y="750">0</text>
<text class="n2" x="192" y="883">83</text>
<text class="n2" x="325" y="883">0</text>
</g>

<g id="plotD2">
<rect class="fr" x="363" y="731" width="156" height="155"/>
<g class="tk"><path d="M414,886v4M423,886v4M451,886v4M477,886v4M504,886v4M363,742h-4M363,770h-4M363,799h-4M363,831h-4M363,844h-4"/>
<use href="#dx" transform="translate(423,886) scale(.28,1)"/><use href="#dx" transform="translate(451,886) scale(.26,1)"/><use href="#dx" transform="translate(477,886) scale(.27,1)"/>
<use href="#dy" transform="translate(363,831) scale(1,.32)"/><use href="#dy" transform="translate(363,799) scale(1,.29)"/><use href="#dy" transform="translate(363,770) scale(1,.28)"/></g>
<text class="tx" x="414" y="899">0</text><text class="tx" x="425" y="899">10<tspan class="s" dy="-3">2</tspan></text><text class="tx" x="453" y="899">10<tspan class="s" dy="-3">3</tspan></text><text class="tx" x="479" y="899">10<tspan class="s" dy="-3">4</tspan></text><text class="tx" x="506" y="899">10<tspan class="s" dy="-3">5</tspan></text>
<text class="ty" x="358" y="745">10<tspan class="s" dy="-3">5</tspan></text><text class="ty" x="358" y="773">10<tspan class="s" dy="-3">4</tspan></text><text class="ty" x="358" y="802">10<tspan class="s" dy="-3">3</tspan></text><text class="ty" x="358" y="834">10<tspan class="s" dy="-3">2</tspan></text><text class="ty" x="358" y="847">0</text>
<path id="d2o" class="ct" vector-effect="non-scaling-stroke" d="M378,837 C378,825 390,818 397,818 C405,817 412,816 417,816 C425,816 428,818 430,818 C435,818 440,816 443,816 C450,816 455,820 455,820 C458,828 459,836 458,843 C458,852 457,860 455,865 C450,870 445,870 440,870 C435,870 430,867 427,865 C420,862 415,860 410,860 C402,860 395,858 390,857 C384,855 380,850 378,845 Z"/>
<use href="#d2o" class="ct" transform="translate(420,843) scale(.92) translate(-420,-843)"/>
<use href="#d2o" class="ct" transform="translate(420,843) scale(.84) translate(-420,-843)"/>
<use href="#d2o" class="ct" transform="translate(420,843) scale(.76,.7) translate(-420,-843)"/>
<use href="#rg2" class="ct" transform="translate(440,838) scale(1.0,1.5)"/>
<use href="#rg" class="ct" transform="translate(440,838) scale(0.7,1.1)"/>
<use href="#rg2" class="ct" transform="translate(400,840) scale(1.0,0.5)"/>
<use href="#rg2" class="ct" transform="translate(480,841) scale(1.9,3.0)"/>
<use href="#rg" class="ct" transform="translate(480,841) scale(1.7,2.7)"/>
<use href="#rg" class="ct" transform="translate(480,841) scale(1.3,2.2)"/>
<path class="dt" d="M404,815h.1M455,812h.1M379,841h.1M381,844h.1M377,852h.1M385,854h.1M384,864h.1M395,862h.1M407,863h.1M430,863h.1"/>
<path class="gt" d="M462,731V886M363,808H519"/>
<text class="n2" x="373" y="750">0</text>
<text class="n2" x="509" y="750">0</text>
<text class="n2" x="379" y="883">40</text>
<text class="n2" x="503" y="883">60</text>
</g>
</svg>
